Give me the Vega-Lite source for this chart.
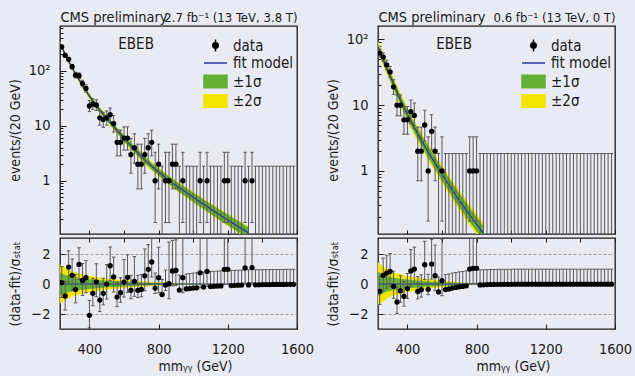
{
"$schema": "https://vega.github.io/schema/vega-lite/v6.json",
"background": "#eaeaf4",
"padding": {"left": 7, "top": 8, "right": 5, "bottom": 5},
"datasets": {
"leg": [{"s":"data"},{"s":"fit model"},{"s":"±1σ"},{"s":"±2σ"}],
"fL": [
{"m":230,"f":316,"lo1":298.3,"hi1":334.7,"lo2":288.2,"hi2":346.5},
{"m":240,"f":272.3,"lo1":257.0,"hi1":288.4,"lo2":248.3,"hi2":298.5},
{"m":280,"f":151.4,"lo1":142.6,"hi1":160.7,"lo2":137.4,"hi2":166.8},
{"m":320,"f":88.1,"lo1":82.7,"hi1":93.8,"lo2":79.4,"hi2":97.7},
{"m":360,"f":55.0,"lo1":50.8,"hi1":59.5,"lo2":48.7,"hi2":62.1},
{"m":400,"f":34.7,"lo1":32.05,"hi1":37.66,"lo2":30.59,"hi2":39.4},
{"m":440,"f":23.2,"lo1":21.3,"hi1":25.28,"lo2":20.33,"hi2":26.5},
{"m":480,"f":16.2,"lo1":14.7,"hi1":17.83,"lo2":14.07,"hi2":18.62},
{"m":520,"f":11.6,"lo1":10.48,"hi1":12.84,"lo2":10.01,"hi2":13.45},
{"m":560,"f":8.22,"lo1":7.4,"hi1":9.14,"lo2":7.05,"hi2":9.59},
{"m":600,"f":5.96,"lo1":5.3,"hi1":6.7,"lo2":5.04,"hi2":7.05},
{"m":640,"f":4.32,"lo1":3.83,"hi1":4.88,"lo2":3.634,"hi2":5.13},
{"m":680,"f":3.2,"lo1":2.819,"hi1":3.63,"lo2":2.679,"hi2":3.823},
{"m":720,"f":2.4,"lo1":2.105,"hi1":2.737,"lo2":2.001,"hi2":2.879},
{"m":760,"f":1.84,"lo1":1.607,"hi1":2.108,"lo2":1.527,"hi2":2.217},
{"m":800,"f":1.445,"lo1":1.244,"hi1":1.678,"lo2":1.194,"hi2":1.75},
{"m":840,"f":1.148,"lo1":0.982,"hi1":1.342,"lo2":0.941,"hi2":1.399},
{"m":880,"f":0.912,"lo1":0.775,"hi1":1.074,"lo2":0.743,"hi2":1.119},
{"m":920,"f":0.741,"lo1":0.625,"hi1":0.879,"lo2":0.6,"hi2":0.916},
{"m":960,"f":0.61,"lo1":0.511,"hi1":0.729,"lo2":0.49,"hi2":0.759},
{"m":1000,"f":0.501,"lo1":0.416,"hi1":0.602,"lo2":0.4,"hi2":0.628},
{"m":1040,"f":0.412,"lo1":0.34,"hi1":0.498,"lo2":0.326,"hi2":0.52},
{"m":1080,"f":0.339,"lo1":0.278,"hi1":0.414,"lo2":0.267,"hi2":0.431},
{"m":1120,"f":0.279,"lo1":0.227,"hi1":0.342,"lo2":0.218,"hi2":0.357},
{"m":1160,"f":0.232,"lo1":0.188,"hi1":0.287,"lo2":0.181,"hi2":0.299},
{"m":1200,"f":0.193,"lo1":0.155,"hi1":0.24,"lo2":0.148,"hi2":0.25},
{"m":1240,"f":0.16,"lo1":0.128,"hi1":0.2,"lo2":0.122,"hi2":0.209},
{"m":1280,"f":0.133,"lo1":0.105,"hi1":0.168,"lo2":0.101,"hi2":0.175},
{"m":1320,"f":0.111,"lo1":0.0874,"hi1":0.141,"lo2":0.0839,"hi2":0.147}
],
"fR": [
{"m":230,"f":75.9,"lo1":66.2,"hi1":87.0,"lo2":61.5,"hi2":93.7},
{"m":240,"f":66.1,"lo1":57.7,"hi1":75.8,"lo2":53.5,"hi2":81.6},
{"m":280,"f":37.2,"lo1":32.2,"hi1":42.9,"lo2":29.9,"hi2":46.3},
{"m":320,"f":20.9,"lo1":18.0,"hi1":24.2,"lo2":16.7,"hi2":26.2},
{"m":360,"f":12.0,"lo1":10.28,"hi1":14.0,"lo2":9.48,"hi2":15.2},
{"m":400,"f":7.24,"lo1":6.17,"hi1":8.5,"lo2":5.66,"hi2":9.25},
{"m":440,"f":4.57,"lo1":3.85,"hi1":5.42,"lo2":3.53,"hi2":5.92},
{"m":480,"f":2.95,"lo1":2.46,"hi1":3.54,"lo2":2.25,"hi2":3.87},
{"m":520,"f":1.95,"lo1":1.606,"hi1":2.368,"lo2":1.465,"hi2":2.597},
{"m":560,"f":1.318,"lo1":1.073,"hi1":1.619,"lo2":0.974,"hi2":1.784},
{"m":600,"f":0.891,"lo1":0.719,"hi1":1.104,"lo2":0.651,"hi2":1.22},
{"m":640,"f":0.617,"lo1":0.493,"hi1":0.773,"lo2":0.445,"hi2":0.855},
{"m":680,"f":0.427,"lo1":0.338,"hi1":0.539,"lo2":0.305,"hi2":0.598},
{"m":720,"f":0.302,"lo1":0.237,"hi1":0.384,"lo2":0.213,"hi2":0.428},
{"m":760,"f":0.214,"lo1":0.167,"hi1":0.274,"lo2":0.15,"hi2":0.306},
{"m":800,"f":0.155,"lo1":0.121,"hi1":0.199,"lo2":0.108,"hi2":0.222},
{"m":840,"f":0.112,"lo1":0.0866,"hi1":0.144,"lo2":0.0776,"hi2":0.162}
],
"bL": [
{"m":230,"lo1":-0.75,"hi1":0.75,"lo2":-1.3,"hi2":1.3},
{"m":240,"lo1":-0.7,"hi1":0.7,"lo2":-1.25,"hi2":1.25},
{"m":260,"lo1":-0.6,"hi1":0.6,"lo2":-1.05,"hi2":1.05},
{"m":280,"lo1":-0.55,"hi1":0.55,"lo2":-0.95,"hi2":0.95},
{"m":300,"lo1":-0.48,"hi1":0.48,"lo2":-0.85,"hi2":0.85},
{"m":340,"lo1":-0.4,"hi1":0.4,"lo2":-0.7,"hi2":0.7},
{"m":380,"lo1":-0.35,"hi1":0.35,"lo2":-0.6,"hi2":0.6},
{"m":420,"lo1":-0.3,"hi1":0.3,"lo2":-0.5,"hi2":0.5},
{"m":460,"lo1":-0.26,"hi1":0.26,"lo2":-0.44,"hi2":0.44},
{"m":500,"lo1":-0.22,"hi1":0.22,"lo2":-0.38,"hi2":0.38},
{"m":560,"lo1":-0.18,"hi1":0.18,"lo2":-0.3,"hi2":0.3},
{"m":620,"lo1":-0.15,"hi1":0.15,"lo2":-0.25,"hi2":0.25},
{"m":700,"lo1":-0.11,"hi1":0.11,"lo2":-0.18,"hi2":0.18},
{"m":800,"lo1":-0.07,"hi1":0.07,"lo2":-0.12,"hi2":0.12},
{"m":900,"lo1":-0.04,"hi1":0.04,"lo2":-0.07,"hi2":0.07},
{"m":1000,"lo1":-0.02,"hi1":0.02,"lo2":-0.04,"hi2":0.04},
{"m":1100,"lo1":-0.01,"hi1":0.01,"lo2":-0.02,"hi2":0.02},
{"m":1200,"lo1":0,"hi1":0,"lo2":0,"hi2":0}
],
"bR": [
{"m":230,"lo1":-0.8,"hi1":0.8,"lo2":-1.45,"hi2":1.45},
{"m":240,"lo1":-0.75,"hi1":0.75,"lo2":-1.35,"hi2":1.35},
{"m":260,"lo1":-0.62,"hi1":0.62,"lo2":-1.15,"hi2":1.15},
{"m":280,"lo1":-0.52,"hi1":0.52,"lo2":-1.0,"hi2":1.0},
{"m":300,"lo1":-0.45,"hi1":0.45,"lo2":-0.85,"hi2":0.85},
{"m":340,"lo1":-0.38,"hi1":0.38,"lo2":-0.7,"hi2":0.7},
{"m":380,"lo1":-0.32,"hi1":0.32,"lo2":-0.6,"hi2":0.6},
{"m":420,"lo1":-0.27,"hi1":0.27,"lo2":-0.5,"hi2":0.5},
{"m":460,"lo1":-0.23,"hi1":0.23,"lo2":-0.42,"hi2":0.42},
{"m":500,"lo1":-0.19,"hi1":0.19,"lo2":-0.35,"hi2":0.35},
{"m":560,"lo1":-0.15,"hi1":0.15,"lo2":-0.27,"hi2":0.27},
{"m":620,"lo1":-0.11,"hi1":0.11,"lo2":-0.2,"hi2":0.2},
{"m":700,"lo1":-0.07,"hi1":0.07,"lo2":-0.12,"hi2":0.12},
{"m":780,"lo1":-0.03,"hi1":0.03,"lo2":-0.06,"hi2":0.06},
{"m":840,"lo1":0,"hi1":0,"lo2":0,"hi2":0}
],
"dL": [
{"m":240,"n":276,"lo":259.4,"hi":293.6,"r":0.1,"rlo":-0.9,"rhi":1.16},
{"m":260,"n":193,"lo":179.1,"hi":207.9,"r":-0.8,"rlo":-1.73,"rhi":0.2},
{"m":280,"n":163,"lo":150.2,"hi":176.8,"r":1.13,"rlo":0.13,"rhi":2.21},
{"m":300,"n":120,"lo":109.0,"hi":132.0,"r":0.58,"rlo":-0.42,"rhi":1.67},
{"m":320,"n":84,"lo":74.8,"hi":94.2,"r":-0.36,"rlo":-1.26,"rhi":0.64},
{"m":340,"n":82,"lo":72.9,"hi":92.1,"r":1.31,"rlo":0.31,"rhi":2.42},
{"m":360,"n":59,"lo":51.3,"hi":67.7,"r":0.24,"rlo":-0.76,"rhi":1.37},
{"m":380,"n":48,"lo":41.1,"hi":55.9,"r":0.42,"rlo":-0.58,"rhi":1.56},
{"m":400,"n":23,"lo":18.2,"hi":28.8,"r":-2.09,"rlo":-2.92,"rhi":-1.09},
{"m":420,"n":25,"lo":20.0,"hi":31.0,"r":-0.62,"rlo":-1.45,"rhi":0.38},
{"m":440,"n":24,"lo":19.1,"hi":29.9,"r":0.15,"rlo":-0.85,"rhi":1.35},
{"m":460,"n":14,"lo":10.3,"hi":18.8,"r":-1.07,"rlo":-1.84,"rhi":-0.07},
{"m":480,"n":13,"lo":9.4,"hi":17.7,"r":-0.62,"rlo":-1.39,"rhi":0.38},
{"m":500,"n":14,"lo":10.3,"hi":18.8,"r":0.0,"rlo":-1.0,"rhi":1.3},
{"m":520,"n":16,"lo":12.0,"hi":21.1,"r":1.22,"rlo":0.22,"rhi":2.47},
{"m":540,"n":11,"lo":7.7,"hi":15.4,"r":0.47,"rlo":-0.53,"rhi":1.8},
{"m":560,"n":5,"lo":2.84,"hi":8.38,"r":-0.87,"rlo":-1.51,"rhi":0.13},
{"m":580,"n":5,"lo":2.84,"hi":8.38,"r":-0.58,"rlo":-1.22,"rhi":0.42},
{"m":600,"n":6,"lo":3.62,"hi":9.58,"r":0.13,"rlo":-0.87,"rhi":1.63},
{"m":620,"n":6,"lo":3.62,"hi":9.58,"r":0.45,"rlo":-0.55,"rhi":1.95},
{"m":640,"n":3,"lo":1.37,"hi":5.92,"r":-0.42,"rlo":-0.98,"rhi":0.58},
{"m":660,"n":4,"lo":2.09,"hi":7.16,"r":0.18,"rlo":-0.82,"rhi":1.83},
{"m":680,"n":2,"lo":0.71,"hi":4.64,"r":-0.42,"rlo":-0.91,"rhi":0.58},
{"m":700,"n":2,"lo":0.71,"hi":4.64,"r":-0.36,"rlo":-0.85,"rhi":0.64},
{"m":720,"n":3,"lo":1.37,"hi":5.92,"r":0.55,"rlo":-0.45,"rhi":2.34},
{"m":740,"n":4,"lo":2.09,"hi":7.16,"r":0.98,"rlo":-0.02,"rhi":2.63},
{"m":760,"n":5,"lo":2.84,"hi":8.38,"r":1.47,"rlo":0.47,"rhi":3.03},
{"m":780,"n":1,"lo":0.173,"hi":3.3,"r":-0.27,"rlo":-0.63,"rhi":0.73},
{"m":800,"n":2,"lo":0.71,"hi":4.64,"r":0.42,"rlo":-0.58,"rhi":2.46},
{"m":820,"n":0,"lo":0.05,"hi":1.84,"r":-0.7,"rlo":-0.7,"rhi":0.3},
{"m":840,"n":1,"lo":0.173,"hi":3.3,"r":-0.07,"rlo":-0.43,"rhi":0.93},
{"m":860,"n":1,"lo":0.173,"hi":3.3,"r":0.02,"rlo":-0.98,"rhi":2.8},
{"m":880,"n":2,"lo":0.71,"hi":4.64,"r":0.87,"rlo":-0.13,"rhi":2.91},
{"m":900,"n":2,"lo":0.71,"hi":4.64,"r":0.91,"rlo":-0.09,"rhi":2.95},
{"m":920,"n":0,"lo":0.05,"hi":1.84,"r":-0.4,"rlo":-0.4,"rhi":0.6},
{"m":940,"n":1,"lo":0.173,"hi":3.3,"r":0.42,"rlo":-0.58,"rhi":3.2},
{"m":960,"n":0,"lo":0.05,"hi":1.84,"r":-0.33,"rlo":-0.33,"rhi":0.67},
{"m":980,"n":0,"lo":0.05,"hi":1.84,"r":-0.3,"rlo":-0.3,"rhi":0.7},
{"m":1000,"n":0,"lo":0.05,"hi":1.84,"r":-0.27,"rlo":-0.27,"rhi":0.73},
{"m":1020,"n":0,"lo":0.05,"hi":1.84,"r":-0.25,"rlo":-0.25,"rhi":0.75},
{"m":1040,"n":1,"lo":0.173,"hi":3.3,"r":0.75,"rlo":-0.25,"rhi":3.53},
{"m":1060,"n":0,"lo":0.05,"hi":1.84,"r":-0.2,"rlo":-0.2,"rhi":0.8},
{"m":1080,"n":1,"lo":0.173,"hi":3.3,"r":0.84,"rlo":-0.16,"rhi":3.62},
{"m":1100,"n":0,"lo":0.05,"hi":1.84,"r":-0.17,"rlo":-0.17,"rhi":0.83},
{"m":1120,"n":0,"lo":0.05,"hi":1.84,"r":-0.15,"rlo":-0.15,"rhi":0.85},
{"m":1140,"n":0,"lo":0.05,"hi":1.84,"r":-0.14,"rlo":-0.14,"rhi":0.86},
{"m":1160,"n":0,"lo":0.05,"hi":1.84,"r":-0.13,"rlo":-0.13,"rhi":0.87},
{"m":1180,"n":1,"lo":0.173,"hi":3.3,"r":0.98,"rlo":-0.02,"rhi":3.76},
{"m":1200,"n":1,"lo":0.173,"hi":3.3,"r":0.98,"rlo":-0.02,"rhi":3.76},
{"m":1220,"n":0,"lo":0.05,"hi":1.84,"r":-0.1,"rlo":-0.1,"rhi":0.9},
{"m":1240,"n":0,"lo":0.05,"hi":1.84,"r":-0.09,"rlo":-0.09,"rhi":0.91},
{"m":1260,"n":0,"lo":0.05,"hi":1.84,"r":-0.08,"rlo":-0.08,"rhi":0.92},
{"m":1280,"n":0,"lo":0.05,"hi":1.84,"r":-0.07,"rlo":-0.07,"rhi":0.93},
{"m":1300,"n":1,"lo":0.173,"hi":3.3,"r":1.07,"rlo":0.07,"rhi":3.85},
{"m":1320,"n":0,"lo":0.05,"hi":1.84,"r":-0.06,"rlo":-0.06,"rhi":0.94},
{"m":1340,"n":1,"lo":0.173,"hi":3.3,"r":1.1,"rlo":0.1,"rhi":3.88},
{"m":1360,"n":0,"lo":0.05,"hi":1.84,"r":-0.05,"rlo":-0.05,"rhi":0.95},
{"m":1380,"n":0,"lo":0.05,"hi":1.84,"r":-0.05,"rlo":-0.05,"rhi":0.95},
{"m":1400,"n":0,"lo":0.05,"hi":1.84,"r":-0.04,"rlo":-0.04,"rhi":0.96},
{"m":1420,"n":0,"lo":0.05,"hi":1.84,"r":-0.04,"rlo":-0.04,"rhi":0.96},
{"m":1440,"n":0,"lo":0.05,"hi":1.84,"r":-0.04,"rlo":-0.04,"rhi":0.96},
{"m":1460,"n":0,"lo":0.05,"hi":1.84,"r":-0.03,"rlo":-0.03,"rhi":0.97},
{"m":1480,"n":0,"lo":0.05,"hi":1.84,"r":-0.03,"rlo":-0.03,"rhi":0.97},
{"m":1500,"n":0,"lo":0.05,"hi":1.84,"r":-0.03,"rlo":-0.03,"rhi":0.97},
{"m":1520,"n":0,"lo":0.05,"hi":1.84,"r":-0.03,"rlo":-0.03,"rhi":0.97},
{"m":1540,"n":0,"lo":0.05,"hi":1.84,"r":-0.02,"rlo":-0.02,"rhi":0.98},
{"m":1560,"n":0,"lo":0.05,"hi":1.84,"r":-0.02,"rlo":-0.02,"rhi":0.98},
{"m":1580,"n":0,"lo":0.05,"hi":1.84,"r":-0.02,"rlo":-0.02,"rhi":0.98}
],
"dR": [
{"m":240,"n":62,"lo":54.1,"hi":70.9,"r":-0.49,"rlo":-1.37,"rhi":0.51},
{"m":260,"n":54,"lo":46.6,"hi":62.3,"r":0.58,"rlo":-0.42,"rhi":1.72},
{"m":280,"n":41,"lo":34.6,"hi":48.4,"r":0.73,"rlo":-0.27,"rhi":1.89},
{"m":300,"n":32,"lo":26.3,"hi":38.7,"r":0.85,"rlo":-0.15,"rhi":2.03},
{"m":320,"n":19,"lo":14.6,"hi":24.4,"r":-0.15,"rlo":-0.95,"rhi":0.85},
{"m":340,"n":10,"lo":6.89,"hi":14.27,"r":-1.2,"rlo":-1.96,"rhi":-0.2},
{"m":360,"n":10,"lo":6.89,"hi":14.27,"r":-0.45,"rlo":-1.21,"rhi":0.55},
{"m":380,"n":6,"lo":3.62,"hi":9.58,"r":-0.82,"rlo":-1.48,"rhi":0.18},
{"m":400,"n":6,"lo":3.62,"hi":9.58,"r":-0.3,"rlo":-0.96,"rhi":0.7},
{"m":420,"n":8,"lo":5.23,"hi":11.95,"r":0.87,"rlo":-0.13,"rhi":2.3},
{"m":440,"n":7,"lo":4.42,"hi":10.77,"r":1.0,"rlo":0.0,"rhi":2.46},
{"m":460,"n":2,"lo":0.71,"hi":4.64,"r":-0.5,"rlo":-0.99,"rhi":0.5},
{"m":480,"n":2,"lo":0.71,"hi":4.64,"r":-0.38,"rlo":-0.87,"rhi":0.62},
{"m":500,"n":5,"lo":2.84,"hi":8.38,"r":1.29,"rlo":0.29,"rhi":2.85},
{"m":520,"n":1,"lo":0.173,"hi":3.3,"r":-0.35,"rlo":-0.71,"rhi":0.65},
{"m":540,"n":4,"lo":2.09,"hi":7.16,"r":1.33,"rlo":0.33,"rhi":2.98},
{"m":560,"n":2,"lo":0.71,"hi":4.64,"r":0.56,"rlo":-0.44,"rhi":2.6},
{"m":580,"n":0,"lo":0.05,"hi":1.84,"r":-0.53,"rlo":-0.53,"rhi":0.47},
{"m":600,"n":1,"lo":0.173,"hi":3.3,"r":0.22,"rlo":-0.78,"rhi":3.0},
{"m":620,"n":0,"lo":0.05,"hi":1.84,"r":-0.37,"rlo":-0.37,"rhi":0.63},
{"m":640,"n":0,"lo":0.05,"hi":1.84,"r":-0.33,"rlo":-0.33,"rhi":0.67},
{"m":660,"n":0,"lo":0.05,"hi":1.84,"r":-0.27,"rlo":-0.27,"rhi":0.73},
{"m":680,"n":0,"lo":0.05,"hi":1.84,"r":-0.23,"rlo":-0.23,"rhi":0.77},
{"m":700,"n":0,"lo":0.05,"hi":1.84,"r":-0.19,"rlo":-0.19,"rhi":0.81},
{"m":720,"n":0,"lo":0.05,"hi":1.84,"r":-0.16,"rlo":-0.16,"rhi":0.84},
{"m":740,"n":0,"lo":0.05,"hi":1.84,"r":-0.12,"rlo":-0.12,"rhi":0.88},
{"m":760,"n":1,"lo":0.173,"hi":3.3,"r":1.0,"rlo":0.0,"rhi":3.78},
{"m":780,"n":1,"lo":0.173,"hi":3.3,"r":1.05,"rlo":0.05,"rhi":3.83},
{"m":800,"n":1,"lo":0.173,"hi":3.3,"r":1.05,"rlo":0.05,"rhi":3.83},
{"m":820,"n":0,"lo":0.05,"hi":1.84,"r":-0.06,"rlo":-0.06,"rhi":0.94},
{"m":840,"n":0,"lo":0.05,"hi":1.84,"r":-0.05,"rlo":-0.05,"rhi":0.95},
{"m":860,"n":0,"lo":0.05,"hi":1.84,"r":-0.04,"rlo":-0.04,"rhi":0.96},
{"m":880,"n":0,"lo":0.05,"hi":1.84,"r":-0.03,"rlo":-0.03,"rhi":0.97},
{"m":900,"n":0,"lo":0.05,"hi":1.84,"r":-0.03,"rlo":-0.03,"rhi":0.97},
{"m":920,"n":0,"lo":0.05,"hi":1.84,"r":-0.02,"rlo":-0.02,"rhi":0.98},
{"m":940,"n":0,"lo":0.05,"hi":1.84,"r":-0.02,"rlo":-0.02,"rhi":0.98},
{"m":960,"n":0,"lo":0.05,"hi":1.84,"r":-0.02,"rlo":-0.02,"rhi":0.98},
{"m":980,"n":0,"lo":0.05,"hi":1.84,"r":-0.02,"rlo":-0.02,"rhi":0.98},
{"m":1000,"n":0,"lo":0.05,"hi":1.84,"r":-0.02,"rlo":-0.02,"rhi":0.98},
{"m":1020,"n":0,"lo":0.05,"hi":1.84,"r":-0.01,"rlo":-0.01,"rhi":0.99},
{"m":1040,"n":0,"lo":0.05,"hi":1.84,"r":-0.01,"rlo":-0.01,"rhi":0.99},
{"m":1060,"n":0,"lo":0.05,"hi":1.84,"r":-0.01,"rlo":-0.01,"rhi":0.99},
{"m":1080,"n":0,"lo":0.05,"hi":1.84,"r":-0.01,"rlo":-0.01,"rhi":0.99},
{"m":1100,"n":0,"lo":0.05,"hi":1.84,"r":-0.01,"rlo":-0.01,"rhi":0.99},
{"m":1120,"n":0,"lo":0.05,"hi":1.84,"r":-0.01,"rlo":-0.01,"rhi":0.99},
{"m":1140,"n":0,"lo":0.05,"hi":1.84,"r":-0.01,"rlo":-0.01,"rhi":0.99},
{"m":1160,"n":0,"lo":0.05,"hi":1.84,"r":-0.01,"rlo":-0.01,"rhi":0.99},
{"m":1180,"n":0,"lo":0.05,"hi":1.84,"r":-0.01,"rlo":-0.01,"rhi":0.99},
{"m":1200,"n":0,"lo":0.05,"hi":1.84,"r":-0.01,"rlo":-0.01,"rhi":0.99},
{"m":1220,"n":0,"lo":0.05,"hi":1.84,"r":-0.01,"rlo":-0.01,"rhi":0.99},
{"m":1240,"n":0,"lo":0.05,"hi":1.84,"r":-0.01,"rlo":-0.01,"rhi":0.99},
{"m":1260,"n":0,"lo":0.05,"hi":1.84,"r":-0.01,"rlo":-0.01,"rhi":0.99},
{"m":1280,"n":0,"lo":0.05,"hi":1.84,"r":-0.01,"rlo":-0.01,"rhi":0.99},
{"m":1300,"n":0,"lo":0.05,"hi":1.84,"r":-0.01,"rlo":-0.01,"rhi":0.99},
{"m":1320,"n":0,"lo":0.05,"hi":1.84,"r":-0.01,"rlo":-0.01,"rhi":0.99},
{"m":1340,"n":0,"lo":0.05,"hi":1.84,"r":-0.01,"rlo":-0.01,"rhi":0.99},
{"m":1360,"n":0,"lo":0.05,"hi":1.84,"r":-0.01,"rlo":-0.01,"rhi":0.99},
{"m":1380,"n":0,"lo":0.05,"hi":1.84,"r":-0.01,"rlo":-0.01,"rhi":0.99},
{"m":1400,"n":0,"lo":0.05,"hi":1.84,"r":-0.01,"rlo":-0.01,"rhi":0.99},
{"m":1420,"n":0,"lo":0.05,"hi":1.84,"r":-0.01,"rlo":-0.01,"rhi":0.99},
{"m":1440,"n":0,"lo":0.05,"hi":1.84,"r":-0.01,"rlo":-0.01,"rhi":0.99},
{"m":1460,"n":0,"lo":0.05,"hi":1.84,"r":-0.01,"rlo":-0.01,"rhi":0.99},
{"m":1480,"n":0,"lo":0.05,"hi":1.84,"r":-0.01,"rlo":-0.01,"rhi":0.99},
{"m":1500,"n":0,"lo":0.05,"hi":1.84,"r":-0.01,"rlo":-0.01,"rhi":0.99},
{"m":1520,"n":0,"lo":0.05,"hi":1.84,"r":-0.01,"rlo":-0.01,"rhi":0.99},
{"m":1540,"n":0,"lo":0.05,"hi":1.84,"r":-0.01,"rlo":-0.01,"rhi":0.99},
{"m":1560,"n":0,"lo":0.05,"hi":1.84,"r":-0.01,"rlo":-0.01,"rhi":0.99},
{"m":1580,"n":0,"lo":0.05,"hi":1.84,"r":-0.01,"rlo":-0.01,"rhi":0.99}
]
},
"spacing": 10,
"resolve": {"scale": {"fill": "independent", "stroke": "independent", "shape": "independent"}, "legend": {"fill": "independent", "stroke": "independent", "shape": "independent"}},
"hconcat": [
{
"vconcat": [
{
"width": 237, "height": 208,
"resolve": {"axis": {"x": "independent", "y": "independent"}},
"layer": [
{"data": {"name": "fL"}, "mark": {"type": "area", "color": "#f2e500", "clip": true},
 "encoding": {
  "x": {"field": "m", "type": "quantitative", "scale": {"domain": [230, 1600], "nice": false, "zero": false},
        "axis": {"orient": "bottom", "values": [400, 600, 800, 1000, 1200, 1400, 1600], "labels": false, "tickSize": -4, "title": null}},
  "y": {"field": "lo2", "type": "quantitative", "scale": {"type": "log", "domain": [0.107, 660], "nice": false},
        "axis": {"orient": "left", "values": [1, 10, 100], "tickSize": -6, "labelPadding": 16, "labelExpr": "datum.value == 100 ? '10²' : datum.label", "title": "events/(20 GeV)", "titlePadding": 6}},
  "y2": {"field": "hi2"}}},
{"data": {"name": "fL"}, "mark": {"type": "area", "color": "#64b036", "clip": true},
 "encoding": {
  "x": {"field": "m", "type": "quantitative", "axis": null},
  "y": {"field": "lo1", "type": "quantitative", "axis": {"orient": "left", "values": [0.2,0.3,0.4,0.5,0.6,0.7,0.8,0.9,2,3,4,5,6,7,8,9,20,30,40,50,60,70,80,90,200,300,400,500,600], "tickSize": -3, "labels": false, "title": null}},
  "y2": {"field": "hi1"}}},
{"data": {"name": "fL"}, "mark": {"type": "line", "color": "#26359a", "strokeWidth": 1.3, "clip": true},
 "encoding": {"x": {"field": "m", "type": "quantitative", "axis": {"orient": "top", "labels": false, "ticks": false, "domain": false, "title": "CMS preliminary", "titleAnchor": "start", "titleBaseline": "alphabetic", "titlePadding": 5, "titleFontSize": 14.5}},
  "y": {"field": "f", "type": "quantitative", "axis": null}}},
{"data": {"name": "dL"}, "mark": {"type": "rule", "color": "#5a5a5a", "strokeWidth": 1, "clip": true},
 "encoding": {"x": {"field": "m", "type": "quantitative", "axis": null}, "y": {"field": "lo", "type": "quantitative", "axis": null}, "y2": {"field": "hi"}}},
{"data": {"name": "dL"}, "transform": [{"filter": "datum.n > 0"}], "mark": {"type": "tick", "orient": "horizontal", "size": 3.5, "thickness": 1, "color": "#5a5a5a", "opacity": 1, "clip": true},
 "encoding": {"x": {"field": "m", "type": "quantitative", "axis": null}, "y": {"field": "lo", "type": "quantitative", "axis": null}}},
{"data": {"name": "dL"}, "mark": {"type": "tick", "orient": "horizontal", "size": 3.5, "thickness": 1, "color": "#5a5a5a", "opacity": 1, "clip": true},
 "encoding": {"x": {"field": "m", "type": "quantitative", "axis": null}, "y": {"field": "hi", "type": "quantitative", "axis": null}}},
{"data": {"name": "dL"}, "transform": [{"filter": "datum.n > 0"}], "mark": {"type": "circle", "color": "#000000", "size": 28, "opacity": 1, "clip": true},
 "encoding": {"x": {"field": "m", "type": "quantitative", "axis": null}, "y": {"field": "n", "type": "quantitative", "axis": null}}},
{"data": {"values": [{"label": "EBEB"}]}, "mark": {"type": "text", "fontSize": 15, "color": "#1a1a1a"},
 "encoding": {
  "x": {"datum": 670, "type": "quantitative", "axis": {"orient": "top", "labels": false, "ticks": false, "domain": false, "title": "2.7 fb⁻¹ (13 TeV, 3.8 T)", "titleAnchor": "end", "titleBaseline": "alphabetic", "titlePadding": 5, "titleFontSize": 13}},
  "y": {"datum": 305, "type": "quantitative", "axis": null},
  "text": {"field": "label"}}},
{"data": {"name": "leg"}, "transform": [{"filter": "false"}], "mark": {"type": "point", "filled": true, "opacity": 1},
 "encoding": {
  "fill": {"field": "s", "type": "nominal", "scale": {"domain": ["data", "fit model", "±1σ", "±2σ"], "range": ["#000000", "#26359a", "#64b036", "#f2e500"]},
           "legend": {"title": null, "orient": "none", "legendX": 148, "legendY": 12, "symbolSize": 144, "symbolStrokeWidth": 1.5, "symbolOpacity": 1, "labelFontSize": 15, "labelOffset": 10, "rowPadding": 0.5, "padding": 0}},
  "stroke": {"field": "s", "type": "nominal", "scale": {"domain": ["data", "fit model", "±1σ", "±2σ"], "range": ["#000000", "#26359a", "#64b036", "#f2e500"]},
           "legend": {"title": null, "orient": "none", "legendX": 148, "legendY": 12, "symbolSize": 144, "symbolStrokeWidth": 1.5, "symbolOpacity": 1, "labelFontSize": 15, "labelOffset": 10, "rowPadding": 0.5, "padding": 0}},
  "shape": {"field": "s", "type": "nominal", "scale": {"domain": ["data", "fit model", "±1σ", "±2σ"], "range": ["M0,-1V1M0.45,0A0.45,0.45,0,1,1,-0.45,0A0.45,0.45,0,1,1,0.45,0Z", "M-1.92,0H1.92", "M-1.92,-1.04H1.92V1.04H-1.92Z", "M-1.92,-1.04H1.92V1.04H-1.92Z"]},
           "legend": {"title": null, "orient": "none", "legendX": 148, "legendY": 12, "symbolSize": 144, "symbolStrokeWidth": 1.5, "symbolOpacity": 1, "labelFontSize": 15, "labelOffset": 10, "rowPadding": 0.5, "padding": 0}}}}
]
},
{
"width": 237, "height": 91,
"resolve": {"axis": {"x": "independent", "y": "independent"}},
"layer": [
{"data": {"name": "bL"}, "mark": {"type": "area", "color": "#f2e500", "clip": true},
 "encoding": {
  "x": {"field": "m", "type": "quantitative", "scale": {"domain": [230, 1600], "nice": false, "zero": false},
        "axis": {"orient": "bottom", "values": [400, 800, 1200, 1600], "format": "d", "tickSize": -5, "labelPadding": 18, "title": "mmᵧᵧ (GeV)", "titleX": 135, "titlePadding": 4}},
  "y": {"field": "lo2", "type": "quantitative", "scale": {"domain": [-3, 3.07], "nice": false, "zero": false},
        "axis": {"orient": "left", "values": [-2, 0, 2], "tickSize": -5, "labelPadding": 15, "grid": true, "gridDash": [3, 2], "gridColor": "#8a8a8a", "gridWidth": 0.8, "title": "(data-fit)/σₛₜₐₜ", "titlePadding": 8}},
  "y2": {"field": "hi2"}}},
{"data": {"name": "bL"}, "mark": {"type": "area", "color": "#64b036", "clip": true},
 "encoding": {
  "x": {"field": "m", "type": "quantitative", "axis": {"orient": "top", "values": [400, 600, 800, 1000, 1200, 1400, 1600], "labels": false, "tickSize": -4, "title": null}},
  "y": {"field": "lo1", "type": "quantitative", "axis": null},
  "y2": {"field": "hi1"}}},
{"data": {"values": [{"zero": 0}]}, "mark": {"type": "rule", "color": "#26359a", "strokeWidth": 1.2},
 "encoding": {"y": {"field": "zero", "type": "quantitative", "axis": null}}},
{"data": {"name": "dL"}, "mark": {"type": "rule", "color": "#5a5a5a", "strokeWidth": 1, "clip": true},
 "encoding": {"x": {"field": "m", "type": "quantitative", "axis": null}, "y": {"field": "rlo", "type": "quantitative", "axis": null}, "y2": {"field": "rhi"}}},
{"data": {"name": "dL"}, "transform": [{"filter": "datum.n > 0"}], "mark": {"type": "tick", "orient": "horizontal", "size": 3.5, "thickness": 1, "color": "#5a5a5a", "opacity": 1, "clip": true},
 "encoding": {"x": {"field": "m", "type": "quantitative", "axis": null}, "y": {"field": "rlo", "type": "quantitative", "axis": null}}},
{"data": {"name": "dL"}, "mark": {"type": "tick", "orient": "horizontal", "size": 3.5, "thickness": 1, "color": "#5a5a5a", "opacity": 1, "clip": true},
 "encoding": {"x": {"field": "m", "type": "quantitative", "axis": null}, "y": {"field": "rhi", "type": "quantitative", "axis": null}}},
{"data": {"name": "dL"}, "mark": {"type": "circle", "color": "#000000", "size": 28, "opacity": 1, "clip": true},
 "encoding": {"x": {"field": "m", "type": "quantitative", "axis": null}, "y": {"field": "r", "type": "quantitative", "axis": null}}}
]
}
],
"spacing": 4,
"bounds": "flush",
"resolve": {"scale": {"fill": "independent", "stroke": "independent", "shape": "independent"}, "legend": {"fill": "independent", "stroke": "independent", "shape": "independent"}}
},
{
"vconcat": [
{
"width": 237, "height": 208,
"resolve": {"axis": {"x": "independent", "y": "independent"}},
"layer": [
{"data": {"name": "fR"}, "mark": {"type": "area", "color": "#f2e500", "clip": true},
 "encoding": {
  "x": {"field": "m", "type": "quantitative", "scale": {"domain": [230, 1600], "nice": false, "zero": false},
        "axis": {"orient": "bottom", "values": [400, 600, 800, 1000, 1200, 1400, 1600], "labels": false, "tickSize": -4, "title": null}},
  "y": {"field": "lo2", "type": "quantitative", "scale": {"type": "log", "domain": [0.11, 160], "nice": false},
        "axis": {"orient": "left", "values": [1, 10, 100], "tickSize": -6, "labelPadding": 16, "labelExpr": "datum.value == 100 ? '10²' : datum.label", "title": "events/(20 GeV)", "titlePadding": 6}},
  "y2": {"field": "hi2"}}},
{"data": {"name": "fR"}, "mark": {"type": "area", "color": "#64b036", "clip": true},
 "encoding": {
  "x": {"field": "m", "type": "quantitative", "axis": null},
  "y": {"field": "lo1", "type": "quantitative", "axis": {"orient": "left", "values": [0.2,0.3,0.4,0.5,0.6,0.7,0.8,0.9,2,3,4,5,6,7,8,9,20,30,40,50,60,70,80,90], "tickSize": -3, "labels": false, "title": null}},
  "y2": {"field": "hi1"}}},
{"data": {"name": "fR"}, "mark": {"type": "line", "color": "#26359a", "strokeWidth": 1.3, "clip": true},
 "encoding": {"x": {"field": "m", "type": "quantitative", "axis": {"orient": "top", "labels": false, "ticks": false, "domain": false, "title": "CMS preliminary", "titleAnchor": "start", "titleBaseline": "alphabetic", "titlePadding": 5, "titleFontSize": 14.5}},
  "y": {"field": "f", "type": "quantitative", "axis": null}}},
{"data": {"name": "dR"}, "mark": {"type": "rule", "color": "#5a5a5a", "strokeWidth": 1, "clip": true},
 "encoding": {"x": {"field": "m", "type": "quantitative", "axis": null}, "y": {"field": "lo", "type": "quantitative", "axis": null}, "y2": {"field": "hi"}}},
{"data": {"name": "dR"}, "transform": [{"filter": "datum.n > 0"}], "mark": {"type": "tick", "orient": "horizontal", "size": 3.5, "thickness": 1, "color": "#5a5a5a", "opacity": 1, "clip": true},
 "encoding": {"x": {"field": "m", "type": "quantitative", "axis": null}, "y": {"field": "lo", "type": "quantitative", "axis": null}}},
{"data": {"name": "dR"}, "mark": {"type": "tick", "orient": "horizontal", "size": 3.5, "thickness": 1, "color": "#5a5a5a", "opacity": 1, "clip": true},
 "encoding": {"x": {"field": "m", "type": "quantitative", "axis": null}, "y": {"field": "hi", "type": "quantitative", "axis": null}}},
{"data": {"name": "dR"}, "transform": [{"filter": "datum.n > 0"}], "mark": {"type": "circle", "color": "#000000", "size": 28, "opacity": 1, "clip": true},
 "encoding": {"x": {"field": "m", "type": "quantitative", "axis": null}, "y": {"field": "n", "type": "quantitative", "axis": null}}},
{"data": {"values": [{"label": "EBEB"}]}, "mark": {"type": "text", "fontSize": 15, "color": "#1a1a1a"},
 "encoding": {
  "x": {"datum": 670, "type": "quantitative", "axis": {"orient": "top", "labels": false, "ticks": false, "domain": false, "title": "0.6 fb⁻¹ (13 TeV, 0 T)", "titleAnchor": "end", "titleBaseline": "alphabetic", "titlePadding": 5, "titleFontSize": 13}},
  "y": {"datum": 85, "type": "quantitative", "axis": null},
  "text": {"field": "label"}}},
{"data": {"name": "leg"}, "transform": [{"filter": "false"}], "mark": {"type": "point", "filled": true, "opacity": 1},
 "encoding": {
  "fill": {"field": "s", "type": "nominal", "scale": {"domain": ["data", "fit model", "±1σ", "±2σ"], "range": ["#000000", "#26359a", "#64b036", "#f2e500"]},
           "legend": {"title": null, "orient": "none", "legendX": 148, "legendY": 12, "symbolSize": 144, "symbolStrokeWidth": 1.5, "symbolOpacity": 1, "labelFontSize": 15, "labelOffset": 10, "rowPadding": 0.5, "padding": 0}},
  "stroke": {"field": "s", "type": "nominal", "scale": {"domain": ["data", "fit model", "±1σ", "±2σ"], "range": ["#000000", "#26359a", "#64b036", "#f2e500"]},
           "legend": {"title": null, "orient": "none", "legendX": 148, "legendY": 12, "symbolSize": 144, "symbolStrokeWidth": 1.5, "symbolOpacity": 1, "labelFontSize": 15, "labelOffset": 10, "rowPadding": 0.5, "padding": 0}},
  "shape": {"field": "s", "type": "nominal", "scale": {"domain": ["data", "fit model", "±1σ", "±2σ"], "range": ["M0,-1V1M0.45,0A0.45,0.45,0,1,1,-0.45,0A0.45,0.45,0,1,1,0.45,0Z", "M-1.92,0H1.92", "M-1.92,-1.04H1.92V1.04H-1.92Z", "M-1.92,-1.04H1.92V1.04H-1.92Z"]},
           "legend": {"title": null, "orient": "none", "legendX": 148, "legendY": 12, "symbolSize": 144, "symbolStrokeWidth": 1.5, "symbolOpacity": 1, "labelFontSize": 15, "labelOffset": 10, "rowPadding": 0.5, "padding": 0}}}}
]
},
{
"width": 237, "height": 91,
"resolve": {"axis": {"x": "independent", "y": "independent"}},
"layer": [
{"data": {"name": "bR"}, "mark": {"type": "area", "color": "#f2e500", "clip": true},
 "encoding": {
  "x": {"field": "m", "type": "quantitative", "scale": {"domain": [230, 1600], "nice": false, "zero": false},
        "axis": {"orient": "bottom", "values": [400, 800, 1200, 1600], "format": "d", "tickSize": -5, "labelPadding": 18, "title": "mmᵧᵧ (GeV)", "titleX": 135, "titlePadding": 4}},
  "y": {"field": "lo2", "type": "quantitative", "scale": {"domain": [-3, 3.07], "nice": false, "zero": false},
        "axis": {"orient": "left", "values": [-2, 0, 2], "tickSize": -5, "labelPadding": 15, "grid": true, "gridDash": [3, 2], "gridColor": "#8a8a8a", "gridWidth": 0.8, "title": "(data-fit)/σₛₜₐₜ", "titlePadding": 8}},
  "y2": {"field": "hi2"}}},
{"data": {"name": "bR"}, "mark": {"type": "area", "color": "#64b036", "clip": true},
 "encoding": {
  "x": {"field": "m", "type": "quantitative", "axis": {"orient": "top", "values": [400, 600, 800, 1000, 1200, 1400, 1600], "labels": false, "tickSize": -4, "title": null}},
  "y": {"field": "lo1", "type": "quantitative", "axis": null},
  "y2": {"field": "hi1"}}},
{"data": {"values": [{"zero": 0}]}, "mark": {"type": "rule", "color": "#26359a", "strokeWidth": 1.2},
 "encoding": {"y": {"field": "zero", "type": "quantitative", "axis": null}}},
{"data": {"name": "dR"}, "mark": {"type": "rule", "color": "#5a5a5a", "strokeWidth": 1, "clip": true},
 "encoding": {"x": {"field": "m", "type": "quantitative", "axis": null}, "y": {"field": "rlo", "type": "quantitative", "axis": null}, "y2": {"field": "rhi"}}},
{"data": {"name": "dR"}, "transform": [{"filter": "datum.n > 0"}], "mark": {"type": "tick", "orient": "horizontal", "size": 3.5, "thickness": 1, "color": "#5a5a5a", "opacity": 1, "clip": true},
 "encoding": {"x": {"field": "m", "type": "quantitative", "axis": null}, "y": {"field": "rlo", "type": "quantitative", "axis": null}}},
{"data": {"name": "dR"}, "mark": {"type": "tick", "orient": "horizontal", "size": 3.5, "thickness": 1, "color": "#5a5a5a", "opacity": 1, "clip": true},
 "encoding": {"x": {"field": "m", "type": "quantitative", "axis": null}, "y": {"field": "rhi", "type": "quantitative", "axis": null}}},
{"data": {"name": "dR"}, "mark": {"type": "circle", "color": "#000000", "size": 28, "opacity": 1, "clip": true},
 "encoding": {"x": {"field": "m", "type": "quantitative", "axis": null}, "y": {"field": "r", "type": "quantitative", "axis": null}}}
]
}
],
"spacing": 4,
"bounds": "flush",
"resolve": {"scale": {"fill": "independent", "stroke": "independent", "shape": "independent"}, "legend": {"fill": "independent", "stroke": "independent", "shape": "independent"}}
}
],
"config": {
 "font": "Liberation Sans Narrow, DejaVu Sans Condensed, sans-serif",
 "view": {"stroke": "#1a1a1a", "strokeWidth": 1.3},
 "title": {"font": "Liberation Sans Narrow, DejaVu Sans Condensed, sans-serif", "fontSize": 14.5, "fontWeight": "normal", "color": "#1a1a1a"},
 "axis": {"labelFont": "Liberation Sans Narrow, DejaVu Sans Condensed, sans-serif", "titleFont": "Liberation Sans Narrow, DejaVu Sans Condensed, sans-serif", "labelFontSize": 14.5, "titleFontSize": 14, "titleFontWeight": "normal", "labelColor": "#1a1a1a", "titleColor": "#1a1a1a", "tickColor": "#1a1a1a", "domain": false, "grid": false, "labelFlush": false, "labelOverlap": false},
 "legend": {"labelFont": "Liberation Sans Narrow, DejaVu Sans Condensed, sans-serif", "labelColor": "#1a1a1a"},
 "text": {"font": "Liberation Sans Narrow, DejaVu Sans Condensed, sans-serif"}
}
}
